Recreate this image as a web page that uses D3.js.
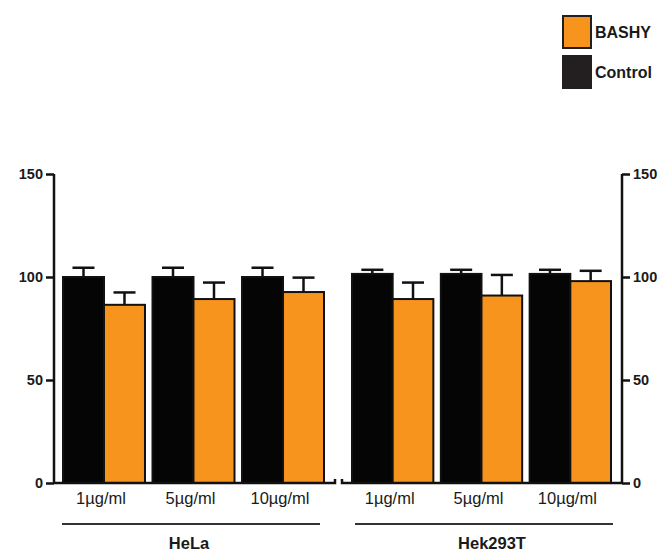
<!DOCTYPE html>
<html>
<head>
<meta charset="utf-8">
<script src="https://cdn.jsdelivr.net/npm/d3@7"></script>
<style>
  body { margin: 0; background: #fff; }
  text { font-family: "Liberation Sans", Arial, sans-serif; fill: #1a1a1a; }
</style>
</head>
<body>
<svg width="665" height="552"></svg>
<script>
var concentrations = ["1µg/ml", "5µg/ml", "10µg/ml"]
var cellLines = ["HeLa", "Hek293T"]
var series = ["Control", "BASHY"]
// values per cell line, per concentration
var controlMean = [[100, 100, 100], [101.5, 101.5, 101.5]]
var controlErr = [[4.5, 4.5, 4.5], [2, 2, 2]]
var bashyMean = [[86.5, 89.3, 92.7], [89.3, 91, 98]]
var bashyErr = [[6, 8, 7], [8, 10, 5]]
var yTicks = [0, 50, 100, 150]

var colors = { "Control": "#050505", "BASHY": "#F7941D" }

var svg = d3.select("svg")
var y = d3.scaleLinear().domain([0, 150]).range([483, 174])

// panel geometry: bar area, baseline extent, axis side
var panels = [
  { range: [63, 324], base: [54, 335], axisX: 54, side: "left", bracket: [62, 320] },
  { range: [352, 611], base: [342, 622], axisX: 622, side: "right", bracket: [355, 613] }
]

panels.forEach(function(p, pi) {
  var g = svg.append("g")
  var x0 = d3.scaleBand().domain(concentrations).range(p.range).paddingInner(0.084).paddingOuter(0)
  var x1 = d3.scaleBand().domain(series).range([0, x0.bandwidth()])

  var rows = []
  concentrations.forEach(function(c, i) {
    rows.push({ conc: c, s: "Control", v: controlMean[pi][i], e: controlErr[pi][i] })
    rows.push({ conc: c, s: "BASHY", v: bashyMean[pi][i], e: bashyErr[pi][i] })
  })

  // error bars (upward only)
  var eb = g.selectAll(".err").data(rows).enter().append("g")
  eb.append("line")
    .attr("x1", d => x0(d.conc) + x1(d.s) + x1.bandwidth() / 2)
    .attr("x2", d => x0(d.conc) + x1(d.s) + x1.bandwidth() / 2)
    .attr("y1", d => y(d.v))
    .attr("y2", d => y(d.v + d.e))
    .attr("stroke", "#111").attr("stroke-width", 2.5)
  eb.append("line")
    .attr("x1", d => x0(d.conc) + x1(d.s) + x1.bandwidth() / 2 - 11)
    .attr("x2", d => x0(d.conc) + x1(d.s) + x1.bandwidth() / 2 + 11)
    .attr("y1", d => y(d.v + d.e))
    .attr("y2", d => y(d.v + d.e))
    .attr("stroke", "#111").attr("stroke-width", 2.5)

  g.selectAll(".bar").data(rows).enter().append("rect")
    .attr("x", d => x0(d.conc) + x1(d.s))
    .attr("width", x1.bandwidth())
    .attr("y", d => y(d.v))
    .attr("height", d => y(0) - y(d.v))
    .attr("fill", d => colors[d.s])
    .attr("stroke", "#111").attr("stroke-width", 2)

  // baseline
  g.append("path")
    .attr("d", "M" + p.base[0] + "," + (y(0) - (pi == 0 ? 0 : 4)) + "V" + y(0) + "H" + p.base[1] + "V" + (y(0) - (pi == 0 ? 4 : 0)))
    .attr("fill", "none").attr("stroke", "#111").attr("stroke-width", 2.5)

  // y axis
  var axis = (p.side == "left" ? d3.axisLeft(y) : d3.axisRight(y))
    .tickValues(yTicks).tickSize(8).tickPadding(3)
  var ag = g.append("g").attr("transform", "translate(" + p.axisX + ",0)").call(axis)
  ag.select(".domain").attr("stroke", "#111").attr("stroke-width", 2.5)
    .attr("d", "M0," + y(150) + "V" + y(0))
  ag.selectAll(".tick line").attr("stroke", "#111").attr("stroke-width", 2.5)
  ag.selectAll(".tick text")
    .style("font-family", "'Liberation Sans', Arial, sans-serif")
    .style("font-size", "14.5px").style("font-weight", "bold").attr("fill", "#1a1a1a")

  // concentration labels
  g.selectAll(".clab").data(concentrations).enter().append("text")
    .attr("x", d => x0(d) + x0.bandwidth() / 2 - 3)
    .attr("y", 504)
    .attr("text-anchor", "middle")
    .style("font-size", "16.5px")
    .text(d => d)

  // bracket and cell line label
  g.append("line")
    .attr("x1", p.bracket[0]).attr("x2", p.bracket[1])
    .attr("y1", 524).attr("y2", 524)
    .attr("stroke", "#333").attr("stroke-width", 2)
  g.append("text")
    .attr("x", (p.bracket[0] + p.bracket[1]) / 2 + (pi == 0 ? -2 : 8))
    .attr("y", 549)
    .attr("text-anchor", "middle")
    .style("font-size", "16.5px").style("font-weight", "bold")
    .text(cellLines[pi])
})

// legend
var legendItems = ["BASHY", "Control"]
var legendColors = { "BASHY": "#F7941D", "Control": "#231F20" }
var lg = svg.append("g").selectAll("g").data(legendItems).enter().append("g")
  .attr("transform", (d, i) => "translate(562," + (15 + i * 40) + ")")
lg.append("rect")
  .attr("x", 1).attr("y", 1).attr("width", 28).attr("height", 32)
  .attr("fill", d => legendColors[d])
  .attr("stroke", "#231F20").attr("stroke-width", 2)
lg.append("text")
  .attr("x", 33).attr("y", 23)
  .style("font-size", "16px").style("font-weight", "bold")
  .text(d => d)
</script>
</body>
</html>
